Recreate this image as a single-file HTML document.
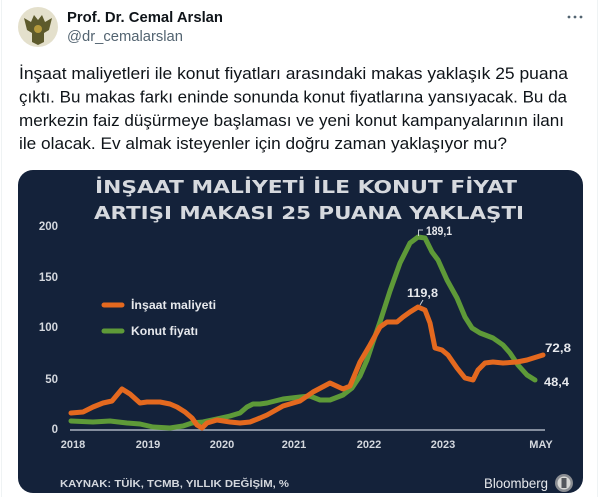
<!DOCTYPE html>
<html><head><meta charset="utf-8"><style>
html,body{margin:0;padding:0;background:#fff;width:602px;height:497px;overflow:hidden}
svg{display:block}
.tw{font-family:"Liberation Sans","DejaVu Sans",sans-serif}
.ch{font-family:"Liberation Sans","DejaVu Sans",sans-serif;font-weight:bold}
</style></head><body>
<svg width="602" height="497" viewBox="0 0 602 497" xmlns="http://www.w3.org/2000/svg">
<rect width="602" height="497" fill="#fff"/>
<line x1="1.5" y1="0" x2="1.5" y2="497" stroke="#eff3f4" stroke-width="1"/>
<line x1="597.5" y1="0" x2="597.5" y2="497" stroke="#eff3f4" stroke-width="1"/>
<!-- avatar -->
<circle cx="38" cy="27" r="20" fill="#e4e0cc"/>
<path d="M24 18 L31 22 L34 15 L38 20 L42 15 L45 22 L52 18 L49 30 L44 33 L44 42 L38 45 L32 42 L32 33 L27 30 Z" fill="#5d5a2c"/>
<circle cx="38" cy="29" r="4" fill="#b59a3c"/>
<!-- header -->
<text class="tw" x="67" y="22" font-size="15" font-weight="bold" fill="#0f1419" textLength="156" lengthAdjust="spacingAndGlyphs">Prof. Dr. Cemal Arslan</text>
<text class="tw" x="67" y="41" font-size="15" fill="#536471" textLength="116" lengthAdjust="spacingAndGlyphs">@dr_cemalarslan</text>
<circle cx="569" cy="17" r="1.4" fill="#536471"/><circle cx="575" cy="17" r="1.4" fill="#536471"/><circle cx="581" cy="17" r="1.4" fill="#536471"/>
<!-- tweet text -->
<g class="tw" font-size="16.5" fill="#0f1419">
<text x="19" y="79" textLength="549" lengthAdjust="spacingAndGlyphs">İnşaat maliyetleri ile konut fiyatları arasındaki makas yaklaşık 25 puana</text>
<text x="19" y="102.5" textLength="548" lengthAdjust="spacingAndGlyphs">çıktı. Bu makas farkı eninde sonunda konut fiyatlarına yansıyacak. Bu da</text>
<text x="19" y="126" textLength="545" lengthAdjust="spacingAndGlyphs">merkezin faiz düşürmeye başlaması ve yeni konut kampanyalarının ilanı</text>
<text x="19" y="149" textLength="488" lengthAdjust="spacingAndGlyphs">ile olacak. Ev almak isteyenler için doğru zaman yaklaşıyor mu?</text>
</g>
<!-- card -->
<rect x="18" y="170" width="565" height="323" rx="15" ry="15" fill="#14223a"/>
<!-- title -->
<g font-family="'DejaVu Sans','Liberation Sans',sans-serif" font-weight="bold" font-size="17.5" fill="#d6d9de">
<text x="95" y="193" textLength="422" lengthAdjust="spacingAndGlyphs">İNŞAAT MALİYETİ İLE KONUT FİYAT</text>
<text x="94" y="219" textLength="430" lengthAdjust="spacingAndGlyphs">ARTIŞI MAKASI 25 PUANA YAKLAŞTI</text>
</g>
<!-- y labels -->
<g class="ch" font-size="11.5" fill="#d4d8de" text-anchor="end">
<text x="58" y="230">200</text>
<text x="58" y="281">150</text>
<text x="58" y="331">100</text>
<text x="58" y="383">50</text>
<text x="58" y="433">0</text>
</g>
<!-- axis -->
<line x1="70" y1="430" x2="545" y2="430" stroke="#a9b2bf" stroke-width="1.5"/>
<!-- x labels -->
<g class="ch" font-size="11" fill="#d4d8de" text-anchor="middle">
<text x="73" y="448">2018</text>
<text x="148" y="448">2019</text>
<text x="222" y="448">2020</text>
<text x="294" y="448">2021</text>
<text x="369" y="448">2022</text>
<text x="443" y="448">2023</text>
<text x="541" y="448">MAY</text>
</g>
<!-- legend -->
<line x1="104" y1="305" x2="122" y2="305" stroke="#e4691f" stroke-width="5" stroke-linecap="round"/>
<line x1="104" y1="331" x2="122" y2="331" stroke="#5e9a38" stroke-width="5" stroke-linecap="round"/>
<g class="ch" font-size="11.5" fill="#e6e8ec">
<text x="131" y="309" textLength="85" lengthAdjust="spacingAndGlyphs">İnşaat maliyeti</text>
<text x="131" y="335" textLength="67" lengthAdjust="spacingAndGlyphs">Konut fiyatı</text>
</g>
<!-- series -->
<polyline fill="none" stroke="#5e9a38" stroke-width="5" stroke-linejoin="round" stroke-linecap="round"
points="71,421 93,422 110,421 127,423 140,424 153,427 170,428 183,426 192,423 203,422 217,419 230,416 240,413 247,407 253,404 260,404 267,403 283,399 300,397 310,396 320,400 330,400 343,395 352,388 360,376 367,360 373,342 380,322 390,291 400,263 410,243 418,237 425,238 432,252 438,260 447,280 457,298 465,317 472,328 480,333 493,338 503,345 510,353 518,365 527,375 535,380"/>
<polyline fill="none" stroke="#e4691f" stroke-width="5" stroke-linejoin="round" stroke-linecap="round"
points="71,413 83,412 93,407 103,403 112,401 122,389 130,394 140,403 147,402 160,402 170,404 177,407 185,412 192,418 197,425 202,428 207,423 217,420 230,422 240,423 250,422 260,418 267,415 283,406 300,401 313,392 330,383 343,389 350,386 360,362 370,345 380,327 387,322 397,322 403,317 410,312 418,307 425,310 430,323 435,348 442,350 448,355 457,368 465,378 473,380 478,370 485,363 493,362 503,363 517,362 527,360 543,355"/>
<!-- annotations -->
<path d="M418.5 236 L418.5 230 L423 230" fill="none" stroke="#c9ced6" stroke-width="1"/>
<line x1="420" y1="305" x2="423" y2="300" stroke="#c9ced6" stroke-width="1"/>
<g class="ch" font-size="11.5" fill="#e6e8ec">
<text x="426" y="235" textLength="26" lengthAdjust="spacingAndGlyphs">189,1</text>
<text x="407" y="297" textLength="31" lengthAdjust="spacingAndGlyphs">119,8</text>
<text x="545" y="352" textLength="26" lengthAdjust="spacingAndGlyphs">72,8</text>
<text x="544" y="386" textLength="25" lengthAdjust="spacingAndGlyphs">48,4</text>
</g>
<!-- footer -->
<text class="ch" x="60" y="487" font-size="10" fill="#d4d8de" textLength="229" lengthAdjust="spacingAndGlyphs">KAYNAK: TÜİK, TCMB, YILLIK DEĞİŞİM, %</text>
<text class="tw" x="484" y="488" font-size="14" fill="#e6e8ec" textLength="64" lengthAdjust="spacingAndGlyphs">Bloomberg</text>
<circle cx="564" cy="483" r="9" fill="#8a8d92"/>
<circle cx="564" cy="483" r="6.5" fill="#d9d9d6"/>
<rect x="561.5" y="478" width="5" height="10" fill="#55585d"/>
</svg>
</body></html>
